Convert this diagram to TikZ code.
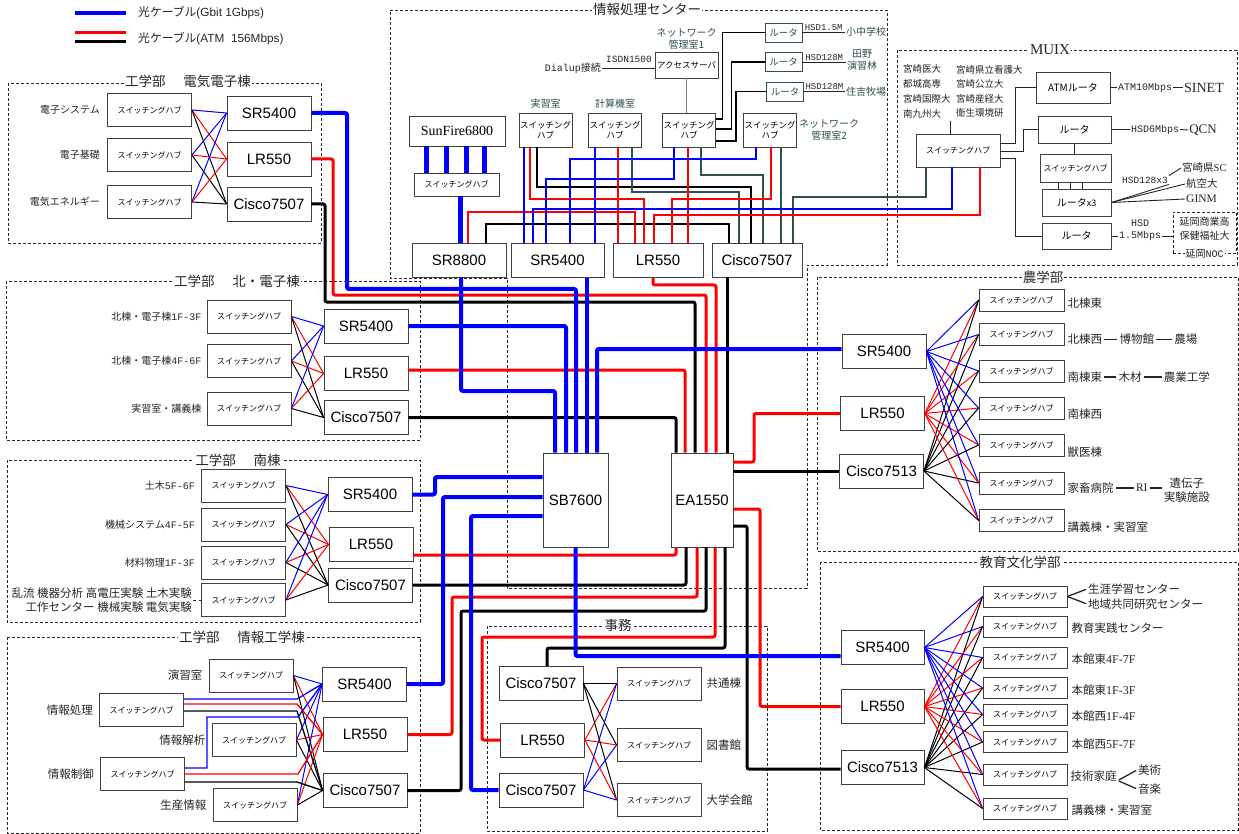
\documentclass[tikz,border=0pt]{standalone}
\usepackage{fontspec}
\setmainfont{Liberation Sans}
\setmonofont{Liberation Mono}
\newfontfamily\jp{Noto Sans CJK JP}
\newfontfamily\rmf{Liberation Serif}
\newcommand\fsz[2]{\fontsize{#1}{#2}\selectfont}
\newcommand\monotxt[1]{{\ttfamily\fsz{10}{12}#1}}
\newcommand\serifnum[1]{{\rmf\fsz{12}{14}#1}}
\usetikzlibrary{positioning}
\definecolor{slate}{HTML}{2F4F4F}
\definecolor{boxline}{HTML}{404040}
\definecolor{txt}{HTML}{262626}

\begin{document}
\begin{tikzpicture}[x=1pt, y=-1pt,
  box/.style={draw=boxline, line width=0.8pt, fill=white, inner sep=0pt},
  hub/.style={box, minimum width=84pt, minimum height=33pt, font=\jp\fsz{8}{10}},
  flathub/.style={hub, minimum width=85pt, minimum height=22pt},
  tallhub/.style={box, minimum width=53pt, minimum height=34pt, align=center, font=\jp\fsz{8.5}{10}},
  rtr/.style={box, minimum width=84pt, minimum height=34pt, font=\fsz{15}{18}},
  rtrbox/.style={box, draw=slate, text=slate, minimum width=37pt, minimum height=19pt, font=\jp\fsz{9.5}{11}},
  muixbox/.style={box, font=\jp\fsz{10}{12}},
  corebox/.style={box, minimum width=64pt, minimum height=94pt, font=\fsz{15}{18}},
  grp/.style={draw=black!85, line width=0.8pt, dash pattern=on 3pt off 2pt},
  grptitle/.style={fill=white, inner sep=1pt, text=txt, font=\jp\fsz{13.5}{16}},
  lbl/.style={inner sep=1pt, text=txt, font=\jp\fsz{10}{12}},
  biglbl/.style={lbl, font=\jp\fsz{11.5}{14}},
  slatelbl/.style={lbl, text=slate, align=center},
  monolbl/.style={inner sep=1pt, text=txt, font=\ttfamily\fsz{10}{12}},
  mesh/.style={line width=1pt},
  fine/.style={line width=1.3pt},
  tie/.style={line width=0.9pt, draw=txt},
  bar/.style={line width=1.3pt, draw=txt, shorten <=1pt, shorten >=1pt},
  btrunk/.style={blue, line width=4pt, rounded corners=2pt},
  rtrunk/.style={red, line width=3pt, rounded corners=2pt},
  ktrunk/.style={black, line width=3pt, rounded corners=2pt}]
\fill[white] (0,0) rectangle (1239,834);
\useasboundingbox (0,0) rectangle (1239,834);

\draw[blue, line width=4.5pt] (75,13) -- (126,13);
\draw[red, line width=3pt] (75,33) -- (126,33);
\draw[line width=3pt] (75,42) -- (126,42);
\node[anchor=west, inner sep=1pt, text=txt, font=\fsz{11.8}{14}] (lg-gbit) at (137,13) {{\jp 光ケーブル}(Gbit 1Gbps)};
\node[anchor=west, inner sep=1pt, text=txt, font=\fsz{11.8}{14}] (lg-atm) at (137,39) {{\jp 光ケーブル}(ATM\ \ 156Mbps)};

\draw[grp] (8,83) rectangle (321,243);
\node[grptitle] (ee-t) at (188,81) {工学部\hspace{1.3em}電気電子棟};
\foreach \i/\y/\lab in {1/110/電子システム, 2/155/電子基礎, 3/202/電気エネルギー} {
  \node[hub] (ee-h\i) at (149.5,\y) {スイッチングハブ};
  \node[lbl, left=6pt of ee-h\i] (ee-l\i) {\lab};
}
\node[rtr] (ee-sr) at (269,113) {SR5400};
\node[rtr] (ee-lr) at (269,159) {LR550};
\node[rtr] (ee-c) at (269,204) {Cisco7507};

\draw[grp] (6,281) rectangle (420,440);
\node[grptitle] (nb-t) at (237,281) {工学部\hspace{1.3em}北・電子棟};
\foreach \i/\y/\lab in {1/316.5/{北棟・電子棟\monotxt{1F-3F}}, 2/361/{北棟・電子棟\monotxt{4F-6F}}, 3/408.5/{実習室・講義棟}} {
  \node[hub] (nb-h\i) at (249,\y) {スイッチングハブ};
  \node[lbl, left=4pt of nb-h\i] (nb-l\i) {\lab};
}
\node[rtr] (nb-sr) at (366,326) {SR5400};
\node[rtr] (nb-lr) at (366,373.5) {LR550};
\node[rtr] (nb-c) at (366,417.5) {Cisco7507};

\draw[grp] (7,460) rectangle (420,622);
\node[grptitle] (st-t) at (238,460) {工学部\hspace{1.3em}南棟};
\foreach \i/\y/\lab in {1/485.5/{土木\monotxt{5F-6F}}, 2/524.5/{機械システム\monotxt{4F-5F}}, 3/562.5/{材料物理\monotxt{1F-3F}}} {
  \node[hub] (st-h\i) at (243.5,\y) {スイッチングハブ};
  \node[lbl, left=5pt of st-h\i] (st-l\i) {\lab};
}
\node[hub] (st-h4) at (243.5,600) {スイッチングハブ};
\node[biglbl, align=right, left=8pt of st-h4] (st-l4) {乱流 機器分析 高電圧実験 土木実験\\工作センター 機械実験 電気実験};
\draw[tie, dashed] (st-l4.east) -- (st-h4.west);
\node[rtr] (st-sr) at (370,494.5) {SR5400};
\node[rtr] (st-lr) at (371,544.5) {LR550};
\node[rtr] (st-c) at (370.5,585) {Cisco7507};

\foreach \g/\n in {ee/3, nb/3, st/4} {
  \foreach \i in {1,...,\n} {
    \draw[mesh, blue] (\g-h\i.east) -- (\g-sr.west);
    \draw[mesh, red] (\g-h\i.east) -- (\g-lr.west);
    \draw[mesh] (\g-h\i.east) -- (\g-c.west);
  }
}

\draw[grp] (7,637) rectangle (420,833);
\node[grptitle] (it-t) at (242,637) {工学部\hspace{1.3em}情報工学棟};
\foreach \i/\x/\y/\lab in {1/251/675.5/演習室, 2/141.5/710/情報処理, 3/254/740/情報解析, 4/142.5/774/情報制御, 5/255/805/生産情報} {
  \node[hub] (it-h\i) at (\x,\y) {スイッチングハブ};
  \node[biglbl, left=5pt of it-h\i] (it-l\i) {\lab};
}
\node[rtr] (it-sr) at (364.5,684) {SR5400};
\node[rtr] (it-lr) at (365,734.5) {LR550};
\node[rtr] (it-c) at (365,790.5) {Cisco7507};
\foreach \i in {1,3,5} {
  \draw[mesh, blue] (it-h\i.east) -- (it-sr.west);
  \draw[mesh, red] (it-h\i.east) -- (it-lr.west);
  \draw[mesh] (it-h\i.east) -- (it-c.west);
}
\draw[fine, blue] (it-h2.east |- 0,699) -- (297,699) -- (it-sr.west);
\draw[fine, red] (it-h2.east |- 0,704) -- (297,704) -- (it-lr.west);
\draw[fine] (it-h2.east |- 0,711) -- (297,711) -- (it-c.west);
\draw[fine, blue] (it-h4.east |- 0,768) -| (207,717) -- (298,717) -- (it-sr.west);
\draw[fine, red] (it-h4.east |- 0,774) -- (298,774) -- (it-lr.west);
\draw[fine] (it-h4.east |- 0,782) -- (297,782) -- (it-c.west);

\draw[grp] (487,626) rectangle (767,831);
\node[grptitle] (jm-t) at (618,625) {事務};
\node[rtr] (jm-c1) at (541,683.5) {Cisco7507};
\node[rtr] (jm-lr) at (542.5,740) {LR550};
\node[rtr] (jm-c2) at (541,790) {Cisco7507};
\foreach \i/\y/\lab in {1/683.5/共通棟, 2/745/図書館, 3/800/大学会館} {
  \node[hub] (jm-h\i) at (659,\y) {スイッチングハブ};
  \node[biglbl, right=4pt of jm-h\i] (jm-l\i) {\lab};
  \draw[mesh] (jm-c1.east) -- (jm-h\i.west);
  \draw[mesh, red] (jm-lr.east) -- (jm-h\i.west);
  \draw[mesh, blue] (jm-c2.east) -- (jm-h\i.west);
}

\draw[grp] (817,277) rectangle (1238,551);
\node[grptitle] (ag-t) at (1043,277) {農学部};
\node[rtr] (ag-sr) at (884,351.5) {SR5400};
\node[rtr] (ag-lr) at (882.5,413.5) {LR550};
\node[rtr] (ag-c) at (881.5,471) {Cisco7513};
\foreach \i/\y in {1/300, 2/334.5, 3/371, 4/408, 5/445, 6/483, 7/520.5}
  \node[flathub] (ag-h\i) at (1021.5,\y) {スイッチングハブ};
\node[biglbl, right=2pt of ag-h1, yshift=-3pt] (ag-l1) {北棟東};
\node[biglbl, right=2pt of ag-h2, yshift=-5pt] (ag-l2) {北棟西};
\node[biglbl, right=15pt of ag-l2] (ag-l2b) {博物館};
\node[biglbl, right=18pt of ag-l2b] (ag-l2c) {農場};
\node[biglbl, right=2pt of ag-h3, yshift=-6pt] (ag-l3) {南棟東};
\node[biglbl, right=14pt of ag-l3] (ag-l3b) {木材};
\node[biglbl, right=20pt of ag-l3b] (ag-l3c) {農業工学};
\node[biglbl, right=2pt of ag-h4, yshift=-6pt] (ag-l4) {南棟西};
\node[biglbl, right=2pt of ag-h5, yshift=-7pt] (ag-l5) {獣医棟};
\node[biglbl, right=2pt of ag-h6, yshift=-5pt] (ag-l6) {家畜病院};
\node[biglbl, right=20pt of ag-l6, font=\rmf\fsz{11.5}{14}] (ag-l6b) {RI};
\node[biglbl, right=14pt of ag-l6b, align=center, yshift=-2pt] (ag-l6c) {遺伝子\\実験施設};
\node[biglbl, right=2pt of ag-h7, yshift=-7pt] (ag-l7) {講義棟・実習室};
\foreach \a/\b in {ag-l2/ag-l2b, ag-l2b/ag-l2c, ag-l3/ag-l3b, ag-l3b/ag-l3c, ag-l6/ag-l6b, ag-l6b/ag-l6c}
  \draw[bar] (\a.east) -- (\a.east -| \b.west);

\draw[grp] (820,562) rectangle (1238,830);
\node[grptitle] (ed-t) at (1020,562) {教育文化学部};
\node[rtr, minimum width=83pt] (ed-sr) at (882.5,647.5) {SR5400};
\node[rtr, minimum width=83pt] (ed-lr) at (882.5,706.5) {LR550};
\node[rtr, minimum width=83pt] (ed-c) at (882.5,767.5) {Cisco7513};
\foreach \i/\y in {1/596.5, 2/626.5, 3/657.5, 4/688, 5/714.5, 6/742, 7/774.5, 8/808.5}
  \node[flathub, minimum width=84pt, minimum height=21pt] (ed-h\i) at (1025,\y) {スイッチングハブ};
\node[biglbl, anchor=west] (ed-l1a) at (1087,589) {生涯学習センター};
\node[biglbl, anchor=west] (ed-l1b) at (1087,604) {地域共同研究センター};
\draw[bar, shorten <=0pt] (ed-h1.east) -- (ed-l1a.west);
\draw[bar, shorten <=0pt] (ed-h1.east) -- (ed-l1b.west);
\foreach \i/\lab in {2/教育実践センター, 3/本館東\serifnum{4F-7F}, 4/本館東\serifnum{1F-3F}, 5/本館西\serifnum{1F-4F}, 6/本館西\serifnum{5F-7F}, 8/講義棟・実習室}
  \node[biglbl, right=3pt of ed-h\i, yshift=-2pt] (ed-l\i) {\lab};
\node[biglbl, right=2pt of ed-h7, yshift=-2pt] (ed-l7) {技術家庭};
\node[biglbl, anchor=west] (ed-l7a) at (1137,770) {美術};
\node[biglbl, anchor=west] (ed-l7b) at (1137,789) {音楽};
\draw[bar] ([yshift=-4pt]ed-l7.east) -- (ed-l7a.west);
\draw[bar] ([yshift=-4pt]ed-l7.east) -- (ed-l7b.west);

\foreach \g/\n in {ag/7, ed/8} {
  \foreach \i in {1,...,\n} {
    \draw[mesh, blue] (\g-sr.east) -- (\g-h\i.west);
    \draw[mesh, red] (\g-lr.east) -- (\g-h\i.west);
    \draw[mesh] (\g-c.east) -- (\g-h\i.west);
  }
}

\draw[grp] (897,50) rectangle (1237,265);
\node[grptitle, font=\rmf\fsz{15}{17}] (mx-t) at (1050,50) {MUIX};
\foreach \i/\y/\lab in {1/69/宮崎医大, 2/84/都城高専, 3/99/宮崎国際大, 4/114/南九州大}
  \node[lbl, anchor=west, font=\jp\fsz{9.5}{11}] (mx-a\i) at (902,\y) {\lab};
\foreach \i/\y/\lab in {1/70/宮崎県立看護大, 2/84/宮崎公立大, 3/99/宮崎産経大, 4/113/衛生環境研}
  \node[lbl, anchor=west, font=\jp\fsz{9.5}{11}] (mx-b\i) at (955,\y) {\lab};
\coordinate (mx-list) at (950,121);
\node[hub] (mx-hub) at (958,150.5) {スイッチングハブ};
\node[muixbox, minimum width=74pt, minimum height=31pt] (mx-atm) at (1073,87.5) {ATMルータ};
\node[muixbox, minimum width=73pt, minimum height=27pt] (mx-qcn) at (1074.5,129.5) {ルータ};
\node[hub, minimum width=71pt, minimum height=28pt] (mx-hub2) at (1075.5,168) {スイッチングハブ};
\node[muixbox, minimum width=69pt, minimum height=27pt] (mx-r3) at (1076.5,202.5) {ルータ{\fsz{9}{11}x3}};
\node[muixbox, minimum width=69pt, minimum height=26pt] (mx-r2) at (1076.5,236) {ルータ};
\draw[tie] (mx-hub.north -| mx-list) -- (mx-list);
\draw[tie] (mx-hub.east |- 0,143) -| (1015,87.5) -- (mx-atm.west);
\draw[tie] (mx-hub.east |- 0,151) -| (1023,129.5) -- (mx-qcn.west);
\draw[tie] (mx-hub.east |- 0,158) -| (1015,236) -- (mx-r2.west);
\draw[tie] (mx-qcn.south) -- (mx-qcn.south |- mx-hub2.north);
\foreach \x in {1058,1070,1082}
  \draw[tie] (mx-hub2.south -| \x,0) -- (mx-r3.north -| \x,0);
\node[monolbl] (mx-atm10) at (1145,87.5) {ATM10Mbps};
\node[inner sep=1pt, text=txt, font=\rmf\fsz{14}{16}] (mx-sinet) at (1204,87.5) {SINET};
\draw[tie] (mx-atm.east) -- (mx-atm10.west);
\draw[tie] (mx-atm10.east) -- (mx-sinet.west);
\node[monolbl] (mx-hsd6) at (1155,129.5) {HSD6Mbps};
\node[inner sep=1pt, text=txt, font=\rmf\fsz{13}{15}] (mx-qcnl) at (1203,130) {QCN};
\draw[tie] (mx-qcn.east) -- (mx-hsd6.west);
\draw[tie] (mx-hsd6.east) -- (mx-qcnl.west);
\node[monolbl, font=\ttfamily\fsz{9.5}{11}] (mx-hsd128) at (1145,180) {HSD128x3};
\node[lbl, anchor=west, font=\jp\fsz{10.5}{12}] (mx-sc) at (1181,168) {宮崎県{\rmf SC}};
\node[lbl, anchor=west, font=\jp\fsz{10.5}{12}] (mx-kk) at (1185,184) {航空大};
\node[lbl, anchor=west, font=\rmf\fsz{11.5}{13}] (mx-gi) at (1185,199) {GINM};
\draw[tie] (mx-r3.east) -- (mx-hsd128.south east);
\draw[tie] (mx-hsd128.north east) -- (mx-sc.west);
\draw[tie] (mx-r3.east) -- (mx-kk.west);
\draw[tie] (mx-r3.east) -- (mx-gi.west);
\node[monolbl, align=center] (mx-hsd15) at (1140,230) {HSD\\1.5Mbps};
\node[grp, minimum width=63pt, minimum height=41pt] (mx-nob) at (1204.5,232.5) {};
\node[lbl, align=center, font=\jp\fsz{10}{14}] (mx-nobt) at (1204.5,229) {延岡商業高\\保健福祉大};
\node[grptitle, font=\jp\fsz{10}{12}] (mx-noc) at (mx-nob.south) {延岡\monotxt{NOC}};
\draw[tie] (mx-r2.east) -- (mx-r2.east -| mx-hsd15.west);
\draw[tie] (mx-r2.east -| mx-hsd15.east) -- (mx-r2.east -| mx-nob.west);

\draw[grp] (390,10) -- (887,10) -- (887,265) -- (807,265) -- (807,588) -- (507,588) -- (507,278) -- (390,278) -- cycle;
\node[grptitle] (cc-t) at (647,9) {情報処理センター};
\node[box, minimum width=96pt, minimum height=30pt, font=\rmf\fsz{14}{16}] (cc-sun) at (457,131) {SunFire6800};
\node[hub, minimum width=85pt, minimum height=23pt] (cc-sunhub) at (456.5,184.5) {スイッチングハブ};
\node[rtr, minimum width=94pt] (cc-sr88) at (459,260) {SR8800};
\node[rtr, minimum width=93pt] (cc-sr) at (557.5,260.5) {SR5400};
\node[rtr, minimum width=90pt] (cc-lr) at (658,260) {LR550};
\node[rtr, minimum width=90pt] (cc-c) at (757,260) {Cisco7507};
\node[corebox, minimum width=65pt] (sb) at (575.5,500) {SB7600};
\node[corebox, minimum width=62pt] (ea) at (702,500) {EA1550};
\foreach \i/\x in {1/545.5, 2/615, 3/689, 4/770}
  \node[tallhub] (cc-h\i) at (\x,130) {スイッチング\\ハブ};
\node[slatelbl, above=3pt of cc-h1] (cc-l1) {実習室};
\node[slatelbl, above=3pt of cc-h2] (cc-l2) {計算機室};
\node[slatelbl, right=1pt of cc-h4] (cc-l4) {ネットワーク\\管理室2};
\node[box, minimum width=63pt, minimum height=26pt, font=\jp\fsz{8.5}{10}] (cc-acc) at (686.5,65) {アクセスサーバ};
\node[slatelbl, above=1pt of cc-acc] (cc-l3) {ネットワーク\\管理室1};
\node[anchor=east, inner sep=1pt, text=txt, font=\jp\fsz{10}{12}] (cc-dial) at (602,68) {\monotxt{Dialup}接続};
\node[monolbl, font=\ttfamily\fsz{9.5}{11}] (cc-isdn) at (629,59) {ISDN1500};
\draw[tie] (cc-dial.east) -- (cc-dial.east -| cc-acc.west);
\draw[tie, gray] (cc-acc.south) -- (cc-acc.south |- cc-h3.north);
\node[rtrbox] (cc-r1) at (783.5,32.5) {ルータ};
\node[rtrbox] (cc-r2) at (783.5,62) {ルータ};
\node[rtrbox] (cc-r3) at (785,91.5) {ルータ};
\node[slatelbl, anchor=west] (cc-d1) at (845,32) {小中学校};
\node[slatelbl, anchor=west] (cc-d2) at (846,60) {田野\\演習林};
\node[slatelbl, anchor=west] (cc-d3) at (845,92) {住吉牧場};
\foreach \i/\lab in {1/HSD1.5M, 2/HSD128M, 3/HSD128M}
  \draw[tie] (cc-r\i.east) -- node[above, monolbl, font=\ttfamily\fsz{9}{10}] (cc-hsd\i) {\lab} (cc-r\i.east -| cc-d\i.west);
\draw[fine] (cc-h3.east |- 0,119) -| ([xshift=-42pt]cc-r1.west) -- (cc-r1.west);
\draw[fine] (cc-h3.east |- 0,129) -| ([xshift=-33pt]cc-r2.west) -- (cc-r2.west);
\draw[fine] (cc-h3.east |- 0,141) -| ([xshift=-30pt]cc-r3.west) -- (cc-r3.west);

\foreach \x in {426,446,466,484}
  \draw[blue, line width=5pt] (cc-sun.south -| \x,0) -- (cc-sunhub.north -| \x,0);
\draw[blue, line width=5pt] (cc-sunhub.south -| 460,0) -- (cc-sr88.north -| 460,0);

\draw[fine, red] (cc-sr88.north -| 468,0) |- (635,212) -- (cc-lr.north -| 635,0);
\draw[fine] (cc-sr88.north -| 486,0) |- (729,224) -- (cc-c.north -| 729,0);
\draw[fine, blue] (cc-h1.south -| 524,0) -- (cc-sr.north -| 524,0);
\draw[fine, red] (cc-h1.south -| 530,0) |- (644,199) -- (cc-lr.north -| 644,0);
\draw[fine] (cc-h1.south -| 537,0) |- (751,187) -- (cc-c.north -| 751,0);
\draw[fine, blue] (cc-h2.south -| 595,0) -- (cc-sr.north -| 595,0);
\draw[fine, red] (cc-h2.south -| 618,0) -- (cc-lr.north -| 618,0);
\draw[fine, slate] (cc-h2.south -| 632,0) |- (739,192) -- (cc-c.north -| 739,0);
\draw[fine, blue] (cc-h3.south -| 674,0) |- (546,179) -- (cc-sr.north -| 546,0);
\draw[fine, red] (cc-h3.south -| 688,0) -- (cc-lr.north -| 688,0);
\draw[fine, slate] (cc-h3.south -| 701,0) |- (763,175) -- (cc-c.north -| 763,0);
\draw[fine, blue] (cc-h4.south -| 756,0) |- (570,159) -- (cc-sr.north -| 570,0);
\draw[fine, red] (cc-h4.south -| 771,0) |- (672,199) -- (cc-lr.north -| 672,0);
\draw[fine, slate] (cc-h4.south -| 781,0) -- (cc-c.north -| 781,0);
\draw[fine, slate] (mx-hub.south -| 926,0) |- (793,197) -- (cc-c.north -| 793,0);
\draw[fine, blue] (mx-hub.south -| 952,0) |- (533,209) -- (cc-sr.north -| 533,0);
\draw[fine, red] (mx-hub.south -| 980,0) |- (654,215) -- (cc-lr.north -| 654,0);

\draw[ktrunk] (ee-c.east) -| (325,302) -| (ea.north -| 695,0);
\draw[ktrunk] (nb-c.east) -| (ea.north -| 676,0);
\draw[ktrunk] (cc-c.south -| 727,0) -- (ea.north -| 727,0);
\draw[ktrunk] (ea.east |- 0,471) -- (ag-c.west |- 0,471);
\draw[ktrunk] (ea.east |- 0,526) -| (747,769) -- (ed-c.west |- 0,769);
\draw[ktrunk] (st-c.east) -| (ea.south -| 686,0);
\draw[ktrunk] (it-c.east) -| (461,611) -| (ea.south -| 706,0);
\draw[ktrunk] (jm-c1.north -| 547,0) |- (725,648) -- (ea.south -| 725,0);

\draw[rtrunk] (ee-lr.east) -| (333,295) -| (ea.north -| 706,0);
\draw[rtrunk] (nb-lr.east |- 0,370) -| (ea.north -| 685,0);
\draw[rtrunk] (cc-lr.south -| 653,0) |- (716,285) -- (ea.north -| 716,0);
\draw[rtrunk] (ea.east |- 0,462) -| (754,413.5) -- (ag-lr.west);
\draw[rtrunk] (ea.east |- 0,509) -| (760,706.5) -- (ed-lr.west);
\draw[rtrunk] (st-lr.east |- 0,555) -| (ea.south -| 676,0);
\draw[rtrunk] (it-lr.east) -| (452,597) -| (ea.south -| 697,0);
\draw[rtrunk] (jm-lr.west) -| (482,637) -| (ea.south -| 715,0);

\draw[btrunk] (ee-sr.east) -| (347,289) -| (sb.north -| 576,0);
\draw[btrunk] (nb-sr.east) -| (sb.north -| 566,0);
\draw[btrunk] (cc-sr88.south -| 461,0) |- (555,391) -- (sb.north -| 555,0);
\draw[btrunk] (cc-sr.south -| 587,0) -- (sb.north -| 587,0);
\draw[btrunk] (ag-sr.west |- 0,349) -| (sb.north -| 597,0);
\draw[btrunk] (st-sr.east) -| (435,477) -- (sb.west |- 0,477);
\draw[btrunk] (it-sr.east) -| (443,497) -- (sb.west |- 0,497);
\draw[btrunk] (jm-c2.west) -| (471,516) -- (sb.west |- 0,516);
\draw[btrunk] (sb.south) |- (ed-sr.west |- 0,656);
\end{tikzpicture}
\end{document}
